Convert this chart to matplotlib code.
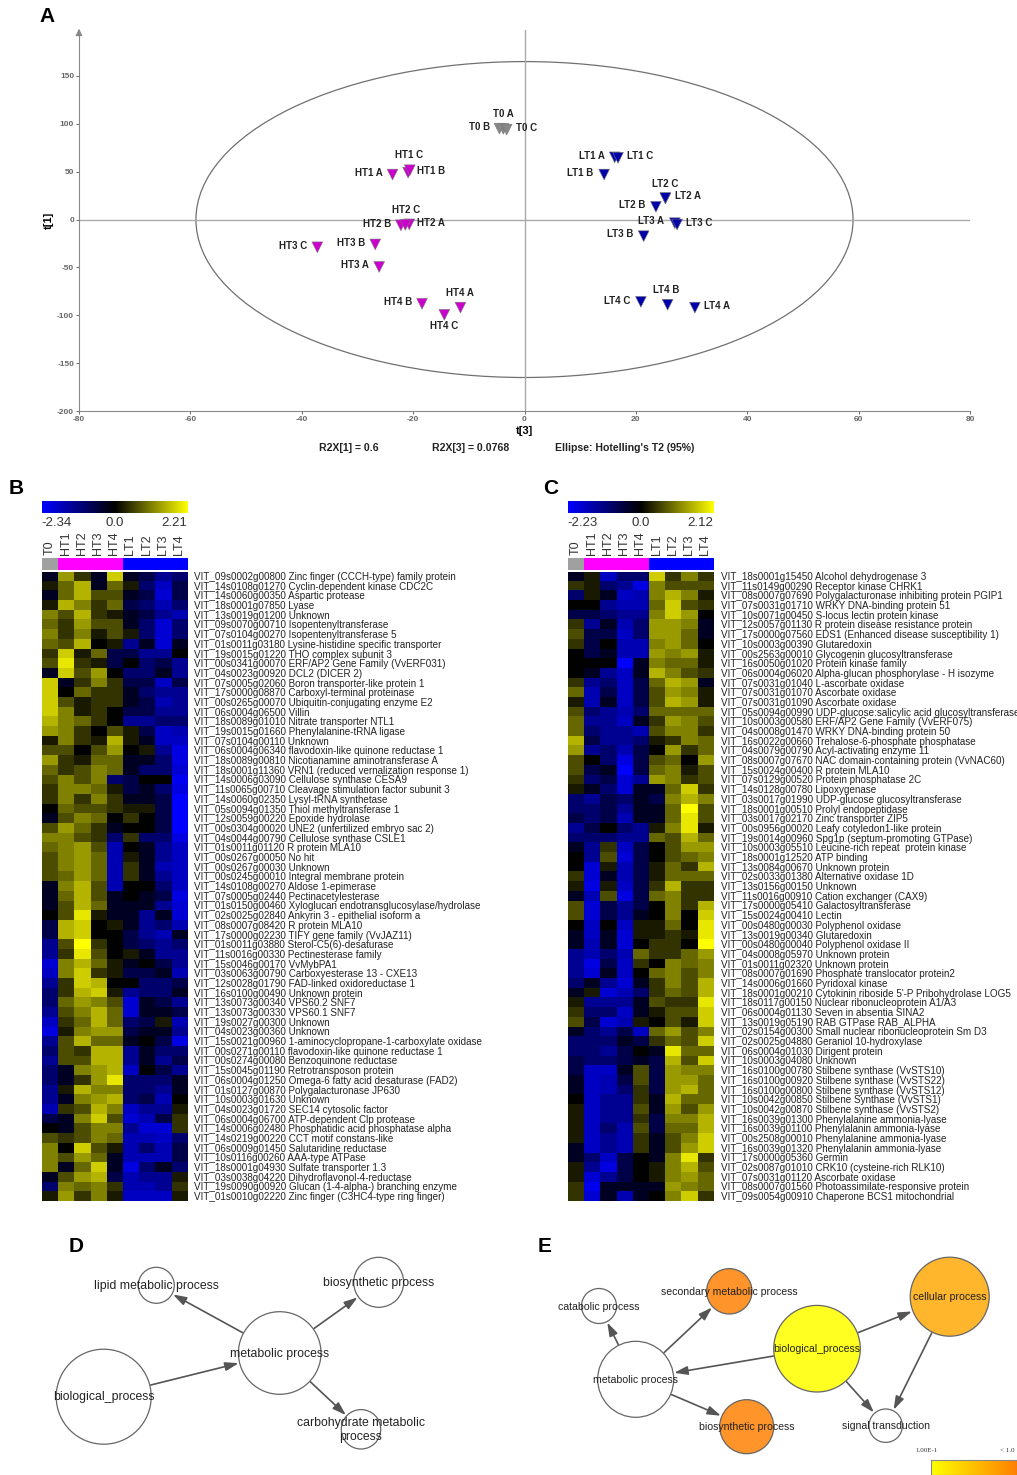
import matplotlib
matplotlib.use('Agg')
import matplotlib.pyplot as plt
import numpy as np
from matplotlib.colors import LinearSegmentedColormap
from matplotlib.patches import Circle, Ellipse, FancyArrowPatch

W, H = 1017, 1475
plt.rcParams['font.family'] = ['Liberation Sans', 'DejaVu Sans']
plt.rcParams['axes.unicode_minus'] = False

# panel A, score plot
score_names = ['T0 A', 'T0 B', 'T0 C', 'HT1 A', 'HT1 B', 'HT1 C', 'HT2 A', 'HT2 B', 'HT2 C',
               'HT3 A', 'HT3 B', 'HT3 C', 'HT4 A', 'HT4 B', 'HT4 C', 'LT1 A', 'LT1 B', 'LT1 C',
               'LT2 A', 'LT2 B', 'LT2 C', 'LT3 A', 'LT3 B', 'LT3 C', 'LT4 A', 'LT4 B', 'LT4 C']
score_x = [-3.8, -4.5, -3.2, -23.7, -20.9, -20.6, -20.7, -22.2, -21.4,
           -26.1, -26.8, -37.2, -11.5, -18.4, -14.4, 16.2, 14.3, 16.8,
           25.3, 23.6, 25.3, 27.0, 21.4, 27.4, 30.6, 25.7, 20.9]
score_y = [94.8, 95, 94, 47, 49, 51.5, -5, -6, -5.5,
           -49.5, -26, -29, -92, -88, -99.5, 65, 47, 64.5,
           22, 13.3, 22.5, -3.8, -17.4, -5.2, -92, -89, -86]
label_dx = [-0.3, -19.7, 19.7, -24, 23, -0.3, 22, -23.7, 0.3,
            -24.3, -24, -24.3, -0.7, -24, 0, -23, -23.7, 21.7,
            22.3, -23.3, -0.7, -23.7, -23.3, 22, 22, -1, -23.7]
label_dy = [-14.7, -1.7, -1.3, -1.7, -1.3, -15, -1.3, -1.3, -15,
            -1.7, -1.3, -1.7, -14.7, -1.7, 11.3, -1.3, -1.7, -1.7,
            -2, -1.7, -14, -1.7, -1.7, -1.7, -1.3, -15, -1.3]

samples = ['T0', 'HT1', 'HT2', 'HT3', 'HT4', 'LT1', 'LT2', 'LT3', 'LT4']

# panel B, heatmap in tenths of the colour scale
genes_b = [
    'VIT_09s0002g00800 Zinc finger (CCCH-type) family protein',
    'VIT_14s0108g01270 Cyclin-dependent kinase CDC2C',
    'VIT_14s0060g00350 Aspartic protease',
    'VIT_18s0001g07850 Lyase',
    'VIT_13s0019g01200 Unknown',
    'VIT_09s0070g00710 Isopentenyltransferase',
    'VIT_07s0104g00270 Isopentenyltransferase 5',
    'VIT_01s0011g03180 Lysine-histidine specific transporter',
    'VIT_19s0015g01220 THO complex subunit 3',
    'VIT_00s0341g00070 ERF/AP2 Gene Family (VvERF031)',
    'VIT_04s0023g00920 DCL2 (DICER 2)',
    'VIT_07s0005g02060 Boron transporter-like protein 1',
    'VIT_17s0000g08870 Carboxyl-terminal proteinase',
    'VIT_00s0265g00070 Ubiquitin-conjugating enzyme E2',
    'VIT_06s0004g06500 Villin',
    'VIT_18s0089g01010 Nitrate transporter NTL1',
    'VIT_19s0015g01660 Phenylalanine-tRNA ligase',
    'VIT_07s0104g00110 Unknown',
    'VIT_06s0004g06340 flavodoxin-like quinone reductase 1',
    'VIT_18s0089g00810 Nicotianamine aminotransferase A',
    'VIT_18s0001g11360 VRN1 (reduced vernalization response 1)',
    'VIT_14s0006g03090 Cellulose synthase CESA9',
    'VIT_11s0065g00710 Cleavage stimulation factor subunit 3',
    'VIT_14s0060g02350 Lysyl-tRNA synthetase',
    'VIT_05s0094g01350 Thiol methyltransferase 1',
    'VIT_12s0059g00220 Epoxide hydrolase',
    'VIT_00s0304g00020 UNE2 (unfertilized embryo sac 2)',
    'VIT_04s0044g00790 Cellulose synthase CSLE1',
    'VIT_01s0011g01120 R protein MLA10',
    'VIT_00s0267g00050 No hit',
    'VIT_00s0267g00030 Unknown',
    'VIT_00s0245g00010 Integral membrane protein',
    'VIT_14s0108g00270 Aldose 1-epimerase',
    'VIT_07s0005g02440 Pectinacetylesterase',
    'VIT_01s0150g00460 Xyloglucan endotransglucosylase/hydrolase',
    'VIT_02s0025g02840 Ankyrin 3 - epithelial isoform a',
    'VIT_08s0007g08420 R protein MLA10',
    'VIT_17s0000g02230 TIFY gene family (VvJAZ11)',
    'VIT_01s0011g03880 Sterol-C5(6)-desaturase',
    'VIT_11s0016g00330 Pectinesterase family',
    'VIT_15s0046g00170 VvMybPA1',
    'VIT_03s0063g00790 Carboxyesterase 13 - CXE13',
    'VIT_12s0028g01790 FAD-linked oxidoreductase 1',
    'VIT_16s0100g00490 Unknown protein',
    'VIT_13s0073g00340 VPS60.2 SNF7',
    'VIT_13s0073g00330 VPS60.1 SNF7',
    'VIT_19s0027g00300 Unknown',
    'VIT_04s0023g00360 Unknown',
    'VIT_15s0021g00960 1-aminocyclopropane-1-carboxylate oxidase',
    'VIT_00s0271g00110 flavodoxin-like quinone reductase 1',
    'VIT_00s0274g00080 Benzoquinone reductase',
    'VIT_15s0045g01190 Retrotransposon protein',
    'VIT_06s0004g01250 Omega-6 fatty acid desaturase (FAD2)',
    'VIT_01s0127g00870 Polygalacturonase JP630',
    'VIT_10s0003g01630 Unknown',
    'VIT_04s0023g01720 SEC14 cytosolic factor',
    'VIT_06s0004g06700 ATP-dependent Clp protease',
    'VIT_14s0006g02480 Phosphatidic acid phosphatase alpha',
    'VIT_14s0219g00220 CCT motif constans-like',
    'VIT_06s0009g01450 Salutaridine reductase',
    'VIT_10s0116g00260 AAA-type ATPase',
    'VIT_18s0001g04930 Sulfate transporter 1.3',
    'VIT_03s0038g04220 Dihydroflavonol-4-reductase',
    'VIT_19s0090g00920 Glucan (1-4-alpha-) branching enzyme',
    'VIT_01s0010g02220 Zinc finger (C3HC4-type ring finger)',
]
heat_b = [
    [-1, 6, 2, -1, 8, -1, -2, -4, -3], [1, 4, 7, -1, 4, 1, -3, -6, -2], [-1, 4, 7, 3, 3, -1, -2, -7, -2],
    [1, 7, 5, 2, 4, -2, -3, -5, -3], [5, 3, 7, 2, 1, -1, -2, -4, -5], [4, 2, 6, 3, 3, -1, -3, -7, -3],
    [5, 2, 5, 1, 3, 1, -3, -7, -3], [4, 3, 7, 0, 1, -4, -1, -7, -1], [2, 8, 1, 4, -2, -2, -4, -4, 0],
    [3, 9, 2, 1, -2, 0, -3, -2, -4], [-1, 8, 3, 6, 0, -3, -3, -1, -4], [8, -1, 2, 5, 2, -2, -2, -6, -2],
    [8, 0, 4, 2, 2, -1, -3, -4, -4], [8, 3, 1, 2, 2, -1, -2, -5, -4], [8, 5, 1, 2, 0, -2, -2, -4, -4],
    [7, 5, 4, 2, 0, -4, -4, -3, -3], [6, 5, 2, 0, 3, 1, -2, -6, -5], [1, 5, 2, 1, 7, 1, -1, -6, -6],
    [3, 3, 0, 3, 6, 0, 1, -4, -8], [6, 2, 1, 4, 4, -1, -1, -3, -8], [4, 2, 3, 5, 4, -1, -3, -3, -7],
    [3, 5, 3, 5, -3, -2, 0, 0, -9], [2, 5, 5, 4, 1, -2, -1, -3, -8], [2, 5, 2, 5, 2, -1, -1, -2, -10],
    [0, 4, 3, 3, 2, 1, 1, -2, -10], [-1, 3, 5, 4, 0, 2, 0, -2, -10], [3, 6, 4, 2, -1, 0, 0, -2, -10],
    [5, 5, 3, 2, -3, 2, -3, -3, -8], [4, 5, 6, 3, -5, 0, -1, -4, -6], [3, 5, 6, 4, -5, 1, -1, -4, -6],
    [3, 5, 6, 4, -5, 2, -1, -5, -6], [3, 4, 6, 4, -5, 2, -1, -4, -6], [-1, 5, 7, 3, -5, 0, 0, -3, -6],
    [-1, 4, 7, 3, -1, 0, -1, -2, -8], [-1, 3, 7, 4, -1, -1, -1, -4, -7], [0, 3, 9, 1, -1, -1, -4, -1, -7],
    [-2, 7, 8, 0, 1, -1, -4, -3, -5], [-2, 7, 8, 0, 0, -2, -4, -5, -1], [-4, 3, 10, 2, 0, -2, -3, -4, -3],
    [-4, 2, 9, 3, 0, 1, -1, -4, -4], [-7, 5, 7, 4, 1, -1, 0, -2, -4], [-6, 5, 8, 2, 1, -2, -2, -1, -5],
    [-4, 2, 8, 7, 0, 0, -3, -3, -2], [-3, 2, 7, 8, 1, -4, -3, -3, -1], [-3, 4, 6, 5, 3, -7, -1, -2, -4],
    [-4, 3, 5, 7, 4, -7, -1, -1, -2], [-6, 2, 4, 7, 4, -3, -2, 1, -5], [-8, 1, 5, 6, 6, -2, -1, -1, -4],
    [-4, 3, 7, 4, 4, -1, 0, -2, -8], [-3, 3, 2, 7, 7, -4, -1, -3, -3], [-4, 3, 3, 7, 7, -4, -1, -4, -2],
    [-3, -1, 5, 6, 7, -6, 0, -2, -4], [-3, -1, 2, 6, 9, -3, -3, -3, -1], [-4, 1, 7, 5, 5, -3, -3, -4, -1],
    [-4, -1, 5, 6, 7, -3, -2, -5, 0], [-5, 2, 3, 7, 5, -6, -4, -4, 1], [-2, -1, 5, 8, 3, -7, -5, -2, 2],
    [0, -1, 3, 5, 5, -4, -7, -7, 2], [3, 2, 3, 5, 4, -5, -5, -6, -3], [5, 0, 8, 3, 1, -5, -3, -5, -2],
    [5, 3, 6, 4, -1, -5, -5, -5, -2], [5, -1, 4, 8, -1, -8, -3, -1, -3], [-1, 3, 6, 7, -2, -5, -4, -4, 1],
    [-3, 5, 4, 5, 2, -5, -5, -4, 2], [1, 6, 2, 5, 1, -6, -6, -6, 1],
]

# panel C
genes_c = [
    'VIT_18s0001g15450 Alcohol dehydrogenase 3',
    'VIT_11s0149g00290 Receptor kinase CHRK1',
    'VIT_08s0007g07690 Polygalacturonase inhibiting protein PGIP1',
    'VIT_07s0031g01710 WRKY DNA-binding protein 51',
    'VIT_10s0071g00450 S-locus lectin protein kinase',
    'VIT_12s0057g01130 R protein disease resistance protein',
    'VIT_17s0000g07560 EDS1 (Enhanced disease susceptibility 1)',
    'VIT_10s0003g00390 Glutaredoxin',
    'VIT_00s2563g00010 Glycogenin glucosyltransferase',
    'VIT_16s0050g01020 Protein kinase family',
    'VIT_06s0004g06020 Alpha-glucan phosphorylase - H isozyme',
    'VIT_07s0031g01040 L-ascorbate oxidase',
    'VIT_07s0031g01070 Ascorbate oxidase',
    'VIT_07s0031g01090 Ascorbate oxidase',
    'VIT_05s0094g00990 UDP-glucose:salicylic acid glucosyltransferase',
    'VIT_10s0003g00580 ERF/AP2 Gene Family (VvERF075)',
    'VIT_04s0008g01470 WRKY DNA-binding protein 50',
    'VIT_16s0022g00660 Trehalose-6-phosphate phosphatase',
    'VIT_04s0079g00790 Acyl-activating enzyme 11',
    'VIT_08s0007g07670 NAC domain-containing protein (VvNAC60)',
    'VIT_15s0024g00400 R protein MLA10',
    'VIT_07s0129g00520 Protein phosphatase 2C',
    'VIT_14s0128g00780 Lipoxygenase',
    'VIT_03s0017g01990 UDP-glucose glucosyltransferase',
    'VIT_18s0001g00510 Prolyl endopeptidase',
    'VIT_03s0017g02170 Zinc transporter ZIP5',
    'VIT_00s0956g00020 Leafy cotyledon1-like protein',
    'VIT_19s0014g00960 Spg1p (septum-promoting GTPase)',
    'VIT_10s0003g05510 Leucine-rich repeat  protein kinase',
    'VIT_18s0001g12520 ATP binding',
    'VIT_13s0084g00670 Unknown protein',
    'VIT_02s0033g01380 Alternative oxidase 1D',
    'VIT_13s0156g00150 Unknown',
    'VIT_11s0016g00910 Cation exchanger (CAX9)',
    'VIT_17s0000g05410 Galactosyltransferase',
    'VIT_15s0024g00410 Lectin',
    'VIT_00s0480g00030 Polyphenol oxidase',
    'VIT_13s0019g00340 Glutaredoxin',
    'VIT_00s0480g00040 Polyphenol oxidase II',
    'VIT_04s0008g05970 Unknown protein',
    'VIT_01s0011g02320 Unknown protein',
    'VIT_08s0007g01690 Phosphate translocator protein2',
    'VIT_14s0006g01660 Pyridoxal kinase',
    "VIT_18s0001g00210 Cytokinin riboside 5'-P Pribohydrolase LOG5",
    'VIT_18s0117g00150 Nuclear ribonucleoprotein A1/A3',
    'VIT_06s0004g01130 Seven in absentia SINA2',
    'VIT_13s0019g05190 RAB GTPase RAB_ALPHA',
    'VIT_02s0154g00300 Small nuclear ribonucleoprotein Sm D3',
    'VIT_02s0025g04880 Geraniol 10-hydroxylase',
    'VIT_06s0004g01030 Dirigent protein',
    'VIT_10s0003g04080 Unknown',
    'VIT_16s0100g00780 Stilbene synthase (VvSTS10)',
    'VIT_16s0100g00920 Stilbene synthase (VvSTS22)',
    'VIT_16s0100g00800 Stilbene synthase (VvSTS12)',
    'VIT_10s0042g00850 Stilbene Synthase (VvSTS1)',
    'VIT_10s0042g00870 Stilbene synthase (VvSTS2)',
    'VIT_16s0039g01300 Phenylalanine ammonia-lyase',
    'VIT_16s0039g01100 Phenylalanin ammonia-lyase',
    'VIT_00s2508g00010 Phenylalanine ammonia-lyase',
    'VIT_16s0039g01320 Phenylalanin ammonia-lyase',
    'VIT_17s0000g05360 Germin',
    'VIT_02s0087g01010 CRK10 (cysteine-rich RLK10)',
    'VIT_07s0031g01120 Ascorbate oxidase',
    'VIT_08s0007g01560 Photoassimilate-responsive protein',
    'VIT_09s0054g00910 Chaperone BCS1 mitochondrial',
]
heat_c = [
    [-1, 1, -6, -3, -3, 8, 2, 5, 2], [2, 1, -3, -4, -8, 5, 3, 3, 3], [-3, 1, -1, -6, -5, 5, 7, 5, 1],
    [0, 0, -4, -5, -5, 4, 8, 3, 2], [-2, -2, -3, -4, -4, 5, 8, 6, 0], [2, -4, -1, -5, -3, 6, 6, 5, -1],
    [3, -2, -2, -6, -3, 6, 6, 4, -1], [2, -2, 0, -5, -5, 5, 6, 4, 0], [0, -2, -1, -5, -5, 6, 5, 6, 1],
    [0, 0, 0, -10, -1, 5, 4, 4, 1], [0, -1, -4, -6, -1, 7, 5, 3, 2], [2, -4, -3, -6, -2, 4, 7, 6, -1],
    [4, -5, -2, -6, -2, 3, 6, 5, 1], [1, -5, -1, -6, -2, 3, 7, 6, 1], [3, -3, -4, -5, -3, 4, 4, 4, 4],
    [4, -4, -4, -6, -1, 2, 6, 5, 3], [4, -3, -4, -4, -5, 3, 5, 5, 2], [7, -2, -4, -4, -3, 1, 2, 5, 4],
    [6, -4, -3, -5, -2, 0, 6, 2, 4], [3, 0, -3, -8, -2, 3, 4, 0, 6], [3, -2, -1, -10, -2, 4, 5, 1, 3],
    [2, -3, -2, -7, -4, 6, 5, 2, 3], [1, -1, -3, -7, -1, -1, 4, 8, 2], [-3, -4, -2, -3, -1, -2, 5, 7, 5],
    [-3, -3, -2, -4, -1, -1, 4, 10, 3], [-2, -3, -2, -5, -1, -1, 4, 9, 3], [-4, -2, 0, -3, -4, 1, 5, 9, 1],
    [-3, -3, -3, -4, -4, 4, 3, 7, 4], [-1, -4, 2, -6, -2, 0, 3, 6, 6], [0, -4, 3, -7, -2, 0, 3, 4, 5],
    [0, -7, 1, -5, -2, 1, 4, 2, 7], [2, -7, -1, -5, -2, 1, 4, 4, 4], [1, -8, 1, -6, -2, 2, 7, 2, 2],
    [-1, -5, 3, -8, -2, 4, 5, 2, 2], [3, -7, -2, -4, -2, 0, 5, 2, 7], [3, -7, -2, -4, -1, 0, 5, 0, 8],
    [0, -6, 0, -6, 1, 1, 4, 0, 9], [-1, -6, -1, -7, 1, 1, 2, 1, 9], [-1, -5, -1, -7, 0, 2, 2, 0, 10],
    [-4, -5, -3, -5, 4, 2, 2, 4, 6], [-4, -8, -2, -6, 2, 0, 5, 4, 5], [-4, -7, -1, -6, 0, 4, 5, 3, 5],
    [-3, -1, -4, -7, -1, 2, 5, 3, 7], [-1, 1, -7, -5, -3, 2, 4, 3, 7], [1, -4, -4, -4, -1, 3, 2, 2, 9],
    [2, -3, -3, -6, -1, 1, 3, 3, 8], [3, -2, -7, -5, 1, 0, 3, 1, 8], [-1, -3, -4, -2, -6, 4, 6, 3, 5],
    [-3, -3, -3, -1, -2, 2, 4, 3, 8], [-3, -3, -4, -2, 0, -1, 9, 4, 4], [-2, -3, -3, -2, -1, -2, 7, 3, 8],
    [-2, -6, -6, -1, 3, -2, 6, 5, 5], [-1, -6, -5, -2, 3, -2, 6, 6, 4], [-1, -6, -5, -3, 2, -2, 6, 7, 4],
    [0, -6, -4, -4, 2, -1, 7, 4, 4], [1, -6, -4, -4, 3, -1, 6, 3, 6], [1, -6, -4, -4, 2, -2, 5, 5, 7],
    [1, -6, -3, -5, 3, -2, 4, 4, 7], [1, -6, -4, -5, 2, -1, 3, 5, 8], [-1, -6, -4, -5, 2, -1, 3, 6, 8],
    [-1, -3, -6, -2, 0, -1, 5, 9, 2], [1, -4, -8, -2, 0, 1, 5, 7, 3], [1, -7, -4, -2, 0, 1, 5, 6, 4],
    [2, -9, -1, -1, -1, -1, 6, 5, 4], [2, -7, -1, -5, -1, 0, 5, 8, 2],
]

# panels D and E, networks: name, x, y, radius, fill (pixels of the page)
net_d = {
    'biological': ('biological_process', 103.7, 1396.7, 47.5, 'white'),
    'metabolic': ('metabolic process', 279.7, 1353, 41.3, 'white'),
    'lipid': ('lipid metabolic process', 156.3, 1285.3, 18, 'white'),
    'biosynthetic': ('biosynthetic process', 378.7, 1282.3, 25, 'white'),
    'carbohydrate': ('carbohydrate metabolic\nprocess', 361, 1429.3, 19.7, 'white'),
}
edges_d = [('biological', 'metabolic'), ('metabolic', 'lipid'),
           ('metabolic', 'biosynthetic'), ('metabolic', 'carbohydrate')]
net_e = {
    'catabolic': ('catabolic process', 599, 1306, 17.5, 'white'),
    'secondary': ('secondary metabolic process', 729.3, 1291.3, 22.7, '#ff942a'),
    'biological': ('biological_process', 817, 1348.7, 43.3, '#ffff22'),
    'cellular': ('cellular process', 949.7, 1296.7, 39.5, '#ffb62c'),
    'metabolic': ('metabolic process', 635.7, 1379.3, 38, 'white'),
    'biosynthetic': ('biosynthetic process', 746.7, 1426.7, 27, '#ff942a'),
    'signal': ('signal transduction', 885.7, 1425.7, 16.7, 'white'),
}
edges_e = [('metabolic', 'catabolic'), ('metabolic', 'secondary'), ('biological', 'metabolic'),
           ('biological', 'cellular'), ('biological', 'signal'), ('cellular', 'signal'),
           ('metabolic', 'biosynthetic')]

fig = plt.figure(figsize=(W / 100, H / 100), dpi=100)


def px_axes(x0, y0, x1, y1):
    return fig.add_axes([x0 / W, 1 - y1 / H, (x1 - x0) / W, (y1 - y0) / H])


# page overlay, y runs down like the picture
page = fig.add_axes([0, 0, 1, 1], zorder=5)
page.set_xlim(0, W)
page.set_ylim(H, 0)
page.axis('off')
page.patch.set_alpha(0)

for letter, lx, ly in [('A', 47, 17), ('B', 16, 489), ('C', 551, 489), ('D', 76, 1246), ('E', 545, 1246)]:
    page.text(lx, ly, letter, fontsize=15, fontweight='bold', ha='center', va='center')

# A
ax = px_axes(79, 30, 970, 411)
ax.set_xlim(-80, 80)
ax.set_ylim(-200, 198)
for s in ['top', 'right']:
    ax.spines[s].set_visible(False)
for s in ['left', 'bottom']:
    ax.spines[s].set_color('#888888')
ax.axhline(0, color='#aaaaaa', lw=1)
ax.axvline(0, color='#aaaaaa', lw=1)
ax.add_patch(Ellipse((0, 0), 118, 330, fill=False, ec='#707070', lw=0.9))
colors = ['#888888'] * 3 + ['#cc00cc'] * 12 + ['#0000aa'] * 12
ax.scatter(score_x, score_y, marker='v', s=60, c=colors, edgecolors='#777777', linewidths=0.4, zorder=3)
for name, x, y, dx, dy in zip(score_names, score_x, score_y, label_dx, label_dy):
    ax.annotate(name, (x, y), xytext=(dx * 0.72, -dy * 0.72), textcoords='offset points',
                ha='center', va='center', fontsize=7, fontweight='bold', color='#222222')
ax.set_xticks(np.arange(-80, 81, 20))
ax.set_yticks(np.arange(-200, 151, 50))
ax.tick_params(labelsize=6, colors='#666666', length=2, width=0.7, pad=1.5)
for t in ax.get_xticklabels() + ax.get_yticklabels():
    t.set_fontweight('bold')
page.annotate('', xy=(79, 26), xytext=(79, 38), arrowprops=dict(arrowstyle='-|>', color='#888888', lw=0.8))
page.text(49, 220, 't[1]', rotation=90, fontsize=8, fontweight='bold', ha='center', va='center')
page.text(524, 431, 't[3]', fontsize=8, fontweight='bold', ha='center', va='center')
page.text(319, 448, 'R2X[1] = 0.6', fontsize=7.6, fontweight='bold', va='center', color='#222222')
page.text(432, 448, 'R2X[3] = 0.0768', fontsize=7.6, fontweight='bold', va='center', color='#222222')
page.text(555, 448, "Ellipse: Hotelling's T2 (95%)", fontsize=7.6, fontweight='bold', va='center', color='#222222')

# B and C
bly = LinearSegmentedColormap.from_list('bly', ['#0000ff', '#000000', '#ffff00'])
# blues read darker than they are, so the low half of the cells rises faster
bly_cells = LinearSegmentedColormap.from_list('bly_cells', [(0, '#0000ff'), (0.25, '#0000b4'), (0.5, '#000000'),
                                                            (1, '#ffff00')])
group_cmap = LinearSegmentedColormap.from_list('grp', ['#a0a0a0', '#ff00ff', '#0000ff'], N=3)
groups = [[0, 1, 1, 1, 1, 2, 2, 2, 2]]


def heat_panel(x0, genes, heat, vmin_lab, vmax_lab, text_x):
    x1 = x0 + 145.4
    bar = px_axes(x0, 501, x1, 513)
    bar.imshow(np.linspace(-1, 1, 256).reshape(1, -1), cmap=bly, aspect='auto')
    bar.axis('off')
    page.text(x0, 523.5, vmin_lab, fontsize=9.5, color='#333333', ha='left', va='center')
    page.text(x0 + 73, 523.5, '0.0', fontsize=9.5, color='#333333', ha='center', va='center')
    page.text(x1, 523.5, vmax_lab, fontsize=9.5, color='#333333', ha='right', va='center')
    cw = 145.4 / 9
    for i, name in enumerate(samples):
        page.text(x0 + cw * (i + 0.5), 555, name, rotation=90, fontsize=9, color='#333333',
                  ha='center', va='bottom')
    g = px_axes(x0, 558, x1, 570)
    g.imshow(groups, cmap=group_cmap, aspect='auto', vmin=0, vmax=2, interpolation='nearest')
    g.axis('off')
    hm = px_axes(x0, 571.7, x1, 1201)
    hm.imshow(heat, cmap=bly_cells, aspect='auto', vmin=-10, vmax=10, interpolation='nearest')
    hm.axis('off')
    for r, gene in enumerate(genes):
        page.text(text_x, 577 + r * 9.69, gene, fontsize=7.1, color='#222222', va='center', ha='left')


heat_panel(41.5, genes_b, heat_b, '-2.34', '2.21', 194)
heat_panel(567.7, genes_c, heat_c, '-2.23', '2.12', 721)


# D and E
def network(nodes, edges, fsize):
    for a, b in edges:
        na, nb = nodes[a], nodes[b]
        p = np.array([na[1], na[2]])
        q = np.array([nb[1], nb[2]])
        u = (q - p) / np.linalg.norm(q - p)
        page.add_patch(FancyArrowPatch(tuple(p + u * (na[3] + 1)), tuple(q - u * (nb[3] + 1)),
                                       arrowstyle='-|>,head_length=8,head_width=2.6', fc='#555555', ec='#555555',
                                       lw=1.2, shrinkA=0, shrinkB=0, mutation_scale=1))
    for label, x, y, r, fill in nodes.values():
        page.add_patch(Circle((x, y), r, fc=fill, ec='#666666', lw=0.9))
    for label, x, y, r, fill in nodes.values():
        page.text(x, y + 0.6, label, fontsize=fsize, color='#222222', ha='center', va='center', zorder=6)


network(net_d, edges_d, 8.8)
network(net_e, edges_e, 7.6)

# E colour legend, cut by the page edge
yo = LinearSegmentedColormap.from_list('yo', ['#ffff00', '#ff8000'])
leg = px_axes(931, 1460, 1017, 1475)
leg.imshow(np.linspace(0, 1, 128).reshape(1, -1), cmap=yo, aspect='auto')
leg.set_xticks([])
leg.set_yticks([])
for s in leg.spines.values():
    s.set_color('#888888')
page.text(926.7, 1451, '1.00E-1', fontsize=5, family='Liberation Serif', ha='center', va='center', color='#333333')
page.text(1000, 1451, '< 1.0', fontsize=5, family='Liberation Serif', ha='left', va='center', color='#333333')

fig.savefig('out.png', dpi=100)
